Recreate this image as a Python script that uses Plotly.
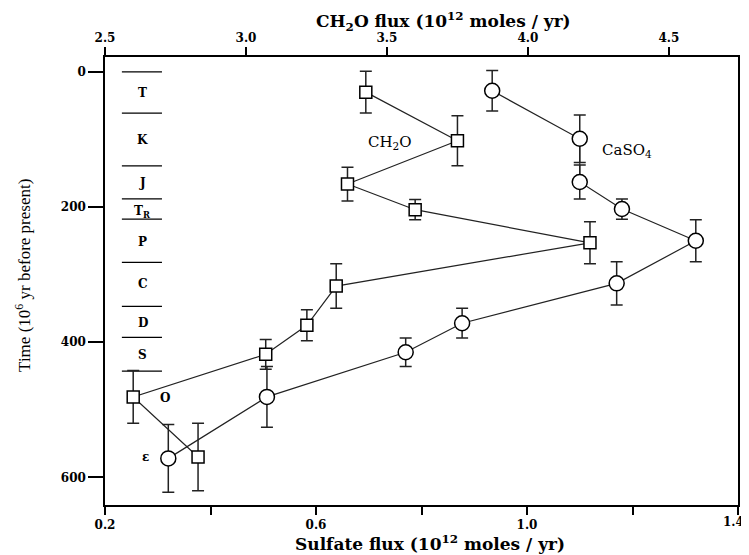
import plotly.graph_objects as go

# Data
periods = ["T", "K", "J", "T<sub>R</sub>", "P", "C", "D", "S", "O", "ε"]
period_label_time = [31, 101, 165, 207, 252, 314, 372, 419, 483, 570]
period_label_x = [0.272, 0.272, 0.272, 0.272, 0.272, 0.272, 0.272, 0.272, 0.314, 0.276]
period_bounds = [0, 61, 139, 188, 218, 282, 347, 393, 443]
bound_x = [0.232, 0.308]

# CaSO4 (sulfate flux, bottom axis)
caso4_time = [28, 99, 163, 203, 250, 313, 372, 415, 481, 572]
caso4_flux = [0.934, 1.10, 1.10, 1.18, 1.32, 1.17, 0.877, 0.77, 0.507, 0.32]
caso4_err = [30, 35, 25, 15, 31, 32, 22, 21, 45, 50]

# CH2O (top axis)
ch2o_time = [30, 102, 166, 204, 253, 317, 375, 418, 481, 570]
ch2o_flux = [3.425, 3.75, 3.36, 3.60, 4.22, 3.32, 3.216, 3.07, 2.60, 2.83]
ch2o_err = [31, 37, 25, 15, 31, 33, 23, 22, 39, 50]

sulfate_ticks = [0.2, 0.4, 0.6, 0.8, 1.0, 1.2, 1.4]
sulfate_ticktext = ["0.2", "", "0.6", "", "1.0", "", ""]
sulfate_last_label = "1.4"
ch2o_ticks = [2.5, 3.0, 3.5, 4.0, 4.5]
ch2o_ticktext = ["2.5", "3.0", "3.5", "4.0", "4.5"]
time_ticks = [0, 200, 400, 600]

serif = "Liberation Serif"
wide = "DejaVu Serif"

fig = go.Figure()

# period boundary lines
bx, by = [], []
for t in period_bounds:
    bx += [bound_x[0], bound_x[1], None]
    by += [t, t, None]
fig.add_trace(go.Scatter(x=bx, y=by, mode="lines", line=dict(color="black", width=1.3),
                         xaxis="x", yaxis="y", showlegend=False, hoverinfo="skip"))

fig.add_trace(go.Scatter(
    x=caso4_flux, y=caso4_time, mode="lines+markers",
    line=dict(color="#222", width=1.2),
    marker=dict(symbol="circle", size=15, color="white", line=dict(color="black", width=1.5)),
    error_y=dict(type="data", array=caso4_err, visible=True, color="#222", thickness=1.5, width=6),
    xaxis="x", yaxis="y", showlegend=False))

fig.add_trace(go.Scatter(
    x=ch2o_flux, y=ch2o_time, mode="lines+markers",
    line=dict(color="#222", width=1.2),
    marker=dict(symbol="square", size=12, color="white", line=dict(color="black", width=1.5)),
    error_y=dict(type="data", array=ch2o_err, visible=True, color="#222", thickness=1.5, width=6),
    xaxis="x2", yaxis="y", showlegend=False))

tickfont = dict(family=wide, size=12, color="black", weight="bold")

annotations = []
for lab, t, x in zip(periods, period_label_time, period_label_x):
    annotations.append(dict(x=x, y=t, xref="x", yref="y", text=lab, showarrow=False,
                            font=dict(family=wide, size=12, color="black", weight="bold")))
annotations.append(dict(x=0.74, y=104, xref="x", yref="y", text="CH<sub>2</sub>O", showarrow=False,
                        font=dict(family=wide, size=15, color="black")))
annotations.append(dict(x=1.19, y=116, xref="x", yref="y", text="CaSO<sub>4</sub>", showarrow=False,
                        font=dict(family=wide, size=15, color="black")))
# last bottom tick label kept inside the page
annotations.append(dict(x=sulfate_ticks[-1], y=0, xref="x", yref="paper", text=sulfate_last_label,
                        showarrow=False, xanchor="right", yanchor="top", xshift=7, yshift=-9,
                        borderpad=0, font=tickfont))

titlefont = dict(family=wide, size=17, color="black", weight="bold")
annotations.append(dict(x=0.534, y=1.08, xref="paper", yref="paper", showarrow=False,
                        xanchor="center", yanchor="middle", borderpad=0,
                        text="CH<sub>2</sub>O flux (10<sup>12</sup> moles / yr)", font=titlefont))
annotations.append(dict(x=0.513, y=-0.085, xref="paper", yref="paper", showarrow=False,
                        xanchor="center", yanchor="middle",
                        text="Sulfate flux (10<sup>12</sup> moles / yr)", font=titlefont))
annotations.append(dict(x=-0.130, y=0.513, xref="paper", yref="paper", showarrow=False,
                        xanchor="center", yanchor="middle", textangle=-90,
                        text="Time (10<sup>6</sup> yr before present)",
                        font=dict(family=serif, size=17, color="black")))

fig.update_layout(
    width=741, height=547,
    margin=dict(l=97, r=11, t=49, b=50),
    paper_bgcolor="white", plot_bgcolor="white",
    annotations=annotations,
    xaxis=dict(range=[0.2, 1.4], tickvals=sulfate_ticks, ticktext=sulfate_ticktext,
               ticks="outside", ticklen=8, tickwidth=1.5, tickcolor="black",
               showline=True, linecolor="black", linewidth=1.5, showgrid=False, zeroline=False,
               tickfont=tickfont, automargin=False),
    xaxis2=dict(range=[2.5, 4.745], overlaying="x", side="top",
                tickvals=ch2o_ticks, ticktext=ch2o_ticktext,
                ticks="outside", ticklen=8, tickwidth=1.5, tickcolor="black",
                showline=True, linecolor="black", linewidth=1.5, showgrid=False, zeroline=False,
                tickfont=tickfont, automargin=False),
    yaxis=dict(range=[641, -22], tickvals=time_ticks,
               ticks="outside", ticklen=15, tickwidth=1.5, tickcolor="black",
               showline=True, linecolor="black", linewidth=1.5, mirror=True,
               showgrid=False, zeroline=False, tickfont=tickfont, automargin=False),
)

fig.write_html("out.html")
